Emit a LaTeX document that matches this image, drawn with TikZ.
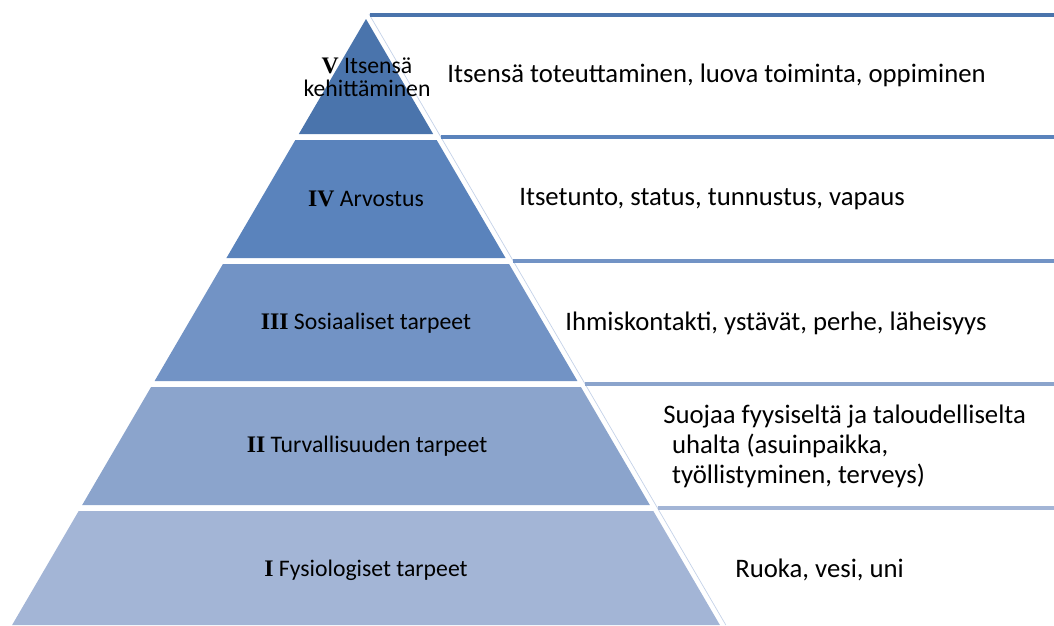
\documentclass[tikz,border=0pt]{standalone}
\usepackage{fontspec}
\setmainfont{Carlito}
\newfontfamily\numfont{Liberation Serif}
\usepackage{tikz}
\definecolor{lvV}{RGB}{74,116,172}
\definecolor{lvIV}{RGB}{90,131,188}
\definecolor{lvIII}{RGB}{114,147,197}
\definecolor{lvII}{RGB}{139,164,204}
\definecolor{lvI}{RGB}{163,181,214}
\definecolor{edgeblue}{RGB}{196,210,232}
\newcommand{\lvnum}[1]{{\numfont\bfseries #1}}

\begin{document}
\begin{tikzpicture}[x=0.2mm, y=-0.2mm,
				level/.style={font=\fontsize{13.5}{13.2}\selectfont, align=center, inner sep=0pt},
				need/.style={font=\fontsize{15.2}{17}\selectfont, anchor=west, align=left, inner sep=0pt},
				topline/.style={line width=2.3pt}]
				%Bildbereich
				\useasboundingbox (0,0) rectangle (1054,625);
				% Stufen zeichnen
				\foreach \t/\b/\c in {19/134/lvV, 140/258/lvIV, 264/381/lvIII, 387/505/lvII, 511/625/lvI}
					\fill[\c] ({366-0.584*(\t-19)},\t) -- ({366+0.584*(\t-19)},\t)
						-- ({366+0.584*(\b-19)},\b) -- ({366-0.584*(\b-19)},\b) -- cycle;
				% Rand rechts
				\draw[edgeblue, line width=0.4pt] (369,14) -- ({369+0.584*611},625);
				% Linien rechts
				\foreach \y/\c in {15/lvV, 137/lvIV, 261/lvIII, 384/lvII, 508/lvI}
					\draw[topline, \c] ({369+0.584*(\y-14)},\y) -- (1054,\y);
				% Stufen beschriften
				\node[level] (lV) at (367,77) {\lvnum{V} Itsensä\\kehittäminen};
				\node[level] (lIV) at (366,199) {\lvnum{IV} Arvostus};
				\node[level] (lIII) at (366,323) {\lvnum{III} Sosiaaliset tarpeet};
				\node[level] (lII) at (367,446) {\lvnum{II} Turvallisuuden tarpeet};
				\node[level] (lI) at (366,570) {\lvnum{I} Fysiologiset tarpeet};
				% Tarpeet
				\node[need] (nV) at (447,75) {Itsensä toteuttaminen, luova toiminta, oppiminen};
				\node[need] (nIV) at (519,199) {Itsetunto, status, tunnustus, vapaus};
				\node[need] (nIII) at (565,323) {Ihmiskontakti, ystävät, perhe, läheisyys};
				\node[need] (nII) at (663,446) {Suojaa fyysiseltä ja taloudelliselta\\\hspace*{5pt}uhalta (asuinpaikka,\\\hspace*{5pt}työllistyminen, terveys)};
				\node[need] (nI) at (735,570) {Ruoka, vesi, uni};
			\end{tikzpicture}
\end{document}
